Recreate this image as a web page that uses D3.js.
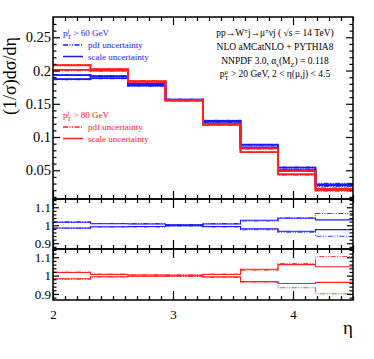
<!DOCTYPE html>
<html>
<head>
<meta charset="utf-8">
<script src="https://cdn.jsdelivr.net/npm/d3@7"></script>
<style>
body { margin: 0; background: #fff; }
svg text { font-family: "Liberation Serif", "DejaVu Serif", serif; }
</style>
</head>
<body>
<svg id="board"></svg>
<script>
// bin edges in eta
let edges = [2, 2.3125, 2.625, 2.9375, 3.25, 3.5625, 3.875, 4.1875, 4.5]

// pT(j) > 60 GeV  (blue)
let blueVal = [0.190, 0.190, 0.1785, 0.156, 0.1235, 0.086, 0.052, 0.028]
let blueScaleUp = [1.017, 1.008, 1.007, 1.002, 1.007, 1.028, 1.039, 1.030]
let blueScaleDn = [0.985, 0.992, 0.993, 0.998, 0.993, 0.980, 0.967, 0.976]
let bluePdfUp = [1.019, 1.010, 1.009, 1.004, 1.009, 1.024, 1.042, 1.065]
let bluePdfDn = [0.983, 0.990, 0.991, 0.996, 0.991, 0.975, 0.962, 0.939]

// pT(j) > 80 GeV  (red)
let redVal = [0.2045, 0.201, 0.1835, 0.155, 0.119, 0.080, 0.046, 0.021]
let redScaleUp = [1.017, 1.006, 1.003, 1.002, 1.006, 1.035, 1.060, 1.048]
let redScaleDn = [0.983, 0.994, 0.997, 0.998, 0.993, 0.967, 0.957, 0.963]
let redPdfUp = [1.020, 1.008, 1.005, 1.004, 1.008, 1.030, 1.066, 1.104]
let redPdfDn = [0.980, 0.992, 0.995, 0.996, 0.990, 0.965, 0.934, 0.901]

let xTicks = [2, 3, 4]
let mainTicks = [0.05, 0.1, 0.15, 0.2, 0.25]
let mainTickLabels = ['0.05', '0.1', '0.15', '0.2', '0.25']
let ratioTicks = [0.9, 1, 1.1]
let ratioTickLabels = ['0.9', '1', '1.1']

let width = 374
let height = 359
let left = 53
let right = 353

let board = d3.select('#board')
    .attr('width', width)
    .attr('height', height)

let xScale = d3.scaleLinear().domain([2, 4.5]).range([left, right])

let panels = [
    { top: 17, bottom: 199, domain: [0.0068, 0.2805] },
    { top: 199, bottom: 249, domain: [0.868, 1.146] },
    { top: 249, bottom: 300, domain: [0.867, 1.145] }
]
panels.forEach(p => {
    p.y = d3.scaleLinear().domain(p.domain).range([p.bottom, p.top])
})

let blue = '#1a1aff'
let red = '#ff2020'

let stepLine = (yScale, vals) => {
    let pts = vals.map((v, i) => [edges[i], v])
    pts.push([edges[edges.length - 1], vals[vals.length - 1]])
    return d3.line()
        .x(d => xScale(d[0]))
        .y(d => yScale(d[1]))
        .curve(d3.curveStepAfter)(pts)
}

let drawSeries = (g, yScale, base, up, dn, pup, pdn, color, lw) => {
    let mul = (r) => r.map((v, i) => v * (base ? base[i] : 1))
    let sets = [
        [mul(pup), true], [mul(pdn), true],
        [mul(up), false], [mul(dn), false]
    ]
    sets.forEach(s => {
        g.append('path')
            .attr('d', stepLine(yScale, s[0]))
            .attr('fill', 'none')
            .attr('stroke', color)
            .attr('stroke-width', lw)
            .attr('stroke-dasharray', s[1] ? '5,1.5,1,1.5,1,1.5' : null)
            .attr('opacity', s[1] ? 0.85 : 1)
    })
}

// clip for each panel
panels.forEach((p, i) => {
    board.append('clipPath').attr('id', 'clip' + i)
        .append('rect')
        .attr('x', left).attr('y', p.top)
        .attr('width', right - left).attr('height', p.bottom - p.top)
})

// main panel
let gMain = board.append('g').attr('clip-path', 'url(#clip0)')
drawSeries(gMain, panels[0].y, blueVal, blueScaleUp, blueScaleDn, bluePdfUp, bluePdfDn, blue, 1.8)
drawSeries(gMain, panels[0].y, redVal, redScaleUp, redScaleDn, redPdfUp, redPdfDn, red, 1.8)

// ratio panels
let gR1 = board.append('g').attr('clip-path', 'url(#clip1)')
drawSeries(gR1, panels[1].y, null, blueScaleUp, blueScaleDn, bluePdfUp, bluePdfDn, blue, 1.1)
let gR2 = board.append('g').attr('clip-path', 'url(#clip2)')
drawSeries(gR2, panels[2].y, null, redScaleUp, redScaleDn, redPdfUp, redPdfDn, red, 1.1)

// axes and ticks
let xMinor = d3.range(2, 4.501, 0.1).map(v => +v.toFixed(2)).filter(v => !xTicks.includes(v))

let styleAxis = (sel) => {
    sel.select('.domain').remove()
    sel.selectAll('line').attr('stroke', '#000').attr('stroke-width', 1.2)
}

panels.forEach((p, i) => {
    let majorX = i === 0 ? 8 : 9
    // bottom
    board.append('g').attr('transform', 'translate(0,' + p.bottom + ')')
        .call(d3.axisBottom(xScale).tickValues(xMinor).tickSize(-4).tickFormat(''))
        .call(styleAxis)
    board.append('g').attr('transform', 'translate(0,' + p.bottom + ')')
        .call(d3.axisBottom(xScale).tickValues(xTicks).tickSize(-majorX).tickFormat(i === 2 ? d3.format('d') : ''))
        .call(styleAxis)
        .call(g => g.selectAll('text').attr('font-size', 13).attr('fill', '#000').attr('dy', '1.2em'))
    // top
    board.append('g').attr('transform', 'translate(0,' + p.top + ')')
        .call(d3.axisTop(xScale).tickValues(xMinor).tickSize(-4).tickFormat(''))
        .call(styleAxis)
    board.append('g').attr('transform', 'translate(0,' + p.top + ')')
        .call(d3.axisTop(xScale).tickValues(xTicks).tickSize(-majorX).tickFormat(''))
        .call(styleAxis)

    let major, labels, minor, fs
    if (i === 0) {
        major = mainTicks
        labels = mainTickLabels
        minor = d3.range(0.01, 0.28, 0.01).map(v => +v.toFixed(2)).filter(v => !mainTicks.includes(v))
        fs = 14.5
    } else {
        major = ratioTicks
        labels = ratioTickLabels
        minor = d3.range(0.88, 1.15, 0.02).map(v => +v.toFixed(2)).filter(v => !ratioTicks.includes(v))
        fs = 13
    }
    let yMajLen = i === 0 ? 7 : 6
    // left
    board.append('g').attr('transform', 'translate(' + left + ',0)')
        .call(d3.axisLeft(p.y).tickValues(minor).tickSize(-3.5).tickFormat(''))
        .call(styleAxis)
    board.append('g').attr('transform', 'translate(' + left + ',0)')
        .call(d3.axisLeft(p.y).tickValues(major).tickSize(-yMajLen).tickPadding(2)
            .tickFormat((d, k) => labels[k]))
        .call(styleAxis)
        .call(g => g.selectAll('text').attr('font-size', fs).attr('fill', '#000'))
    // right
    board.append('g').attr('transform', 'translate(' + right + ',0)')
        .call(d3.axisRight(p.y).tickValues(minor).tickSize(-3.5).tickFormat(''))
        .call(styleAxis)
    board.append('g').attr('transform', 'translate(' + right + ',0)')
        .call(d3.axisRight(p.y).tickValues(major).tickSize(-yMajLen).tickFormat(''))
        .call(styleAxis)

    board.append('rect')
        .attr('x', left).attr('y', p.top)
        .attr('width', right - left).attr('height', p.bottom - p.top)
        .attr('fill', 'none').attr('stroke', '#000').attr('stroke-width', 1.5)
})

// axis titles
board.append('text')
    .attr('transform', 'translate(16,76) rotate(-90)')
    .attr('text-anchor', 'middle')
    .attr('font-size', 18)
    .text('(1/σ)dσ/dη')

board.append('text')
    .attr('x', 353).attr('y', 334)
    .attr('text-anchor', 'end')
    .attr('font-size', 19)
    .text('η')

// legends
let legend = (x, y, color, cut) => {
    let t = board.append('text').attr('x', x).attr('y', y).attr('font-size', 9).attr('fill', color)
    t.append('tspan').text('p')
    t.append('tspan').attr('font-size', 6.5).attr('dy', -3.5).text('j')
    t.append('tspan').attr('font-size', 6.5).attr('dx', -2).attr('dy', 6.5).text('T')
    t.append('tspan').attr('dy', -3).text(' > ' + cut + ' GeV')

    board.append('line').attr('x1', x).attr('x2', x + 20)
        .attr('y1', y + 9).attr('y2', y + 9)
        .attr('stroke', color).attr('stroke-width', 1.3)
        .attr('stroke-dasharray', '5,1.5,1,1.5,1,1.5')
    board.append('text').attr('x', x + 25).attr('y', y + 12)
        .attr('font-size', 9).attr('fill', color).text('pdf uncertainty')
    board.append('line').attr('x1', x).attr('x2', x + 20)
        .attr('y1', y + 20.5).attr('y2', y + 20.5)
        .attr('stroke', color).attr('stroke-width', 1.5)
    board.append('text').attr('x', x + 25).attr('y', y + 23.5)
        .attr('font-size', 9).attr('fill', color).text('scale uncertainty')
}
legend(63, 36, blue, 60)
legend(63, 118, red, 80)

// process text block
let cx = 275
let t1 = board.append('text').attr('x', cx).attr('y', 36).attr('text-anchor', 'middle').attr('font-size', 9.5)
t1.append('tspan').text('pp→W')
t1.append('tspan').attr('font-size', 6.5).attr('dy', -3.5).text('±')
t1.append('tspan').attr('dy', 3.5).text('j→μ')
t1.append('tspan').attr('font-size', 6.5).attr('dy', -3.5).text('±')
t1.append('tspan').attr('dy', 3.5).text('νj ( √s = 14 TeV)')

board.append('text').attr('x', cx).attr('y', 50).attr('text-anchor', 'middle')
    .attr('font-size', 9.5).text('NLO aMCatNLO + PYTHIA8')

let t3 = board.append('text').attr('x', cx).attr('y', 64).attr('text-anchor', 'middle').attr('font-size', 9.5)
t3.append('tspan').text('NNPDF 3.0, α')
t3.append('tspan').attr('font-size', 6.5).attr('dy', 2.5).text('s')
t3.append('tspan').attr('dy', -2.5).text('(M')
t3.append('tspan').attr('font-size', 6.5).attr('dy', 2.5).text('Z')
t3.append('tspan').attr('dy', -2.5).text(') = 0.118')

let t4 = board.append('text').attr('x', cx).attr('y', 77).attr('text-anchor', 'middle').attr('font-size', 9.5)
t4.append('tspan').text('p')
t4.append('tspan').attr('font-size', 6.5).attr('dy', -3.5).text('μ')
t4.append('tspan').attr('font-size', 6.5).attr('dx', -3.5).attr('dy', 6.5).text('T')
t4.append('tspan').attr('dy', -3).text(' > 20 GeV, 2 < η(μ,j) < 4.5')
</script>
</body>
</html>
